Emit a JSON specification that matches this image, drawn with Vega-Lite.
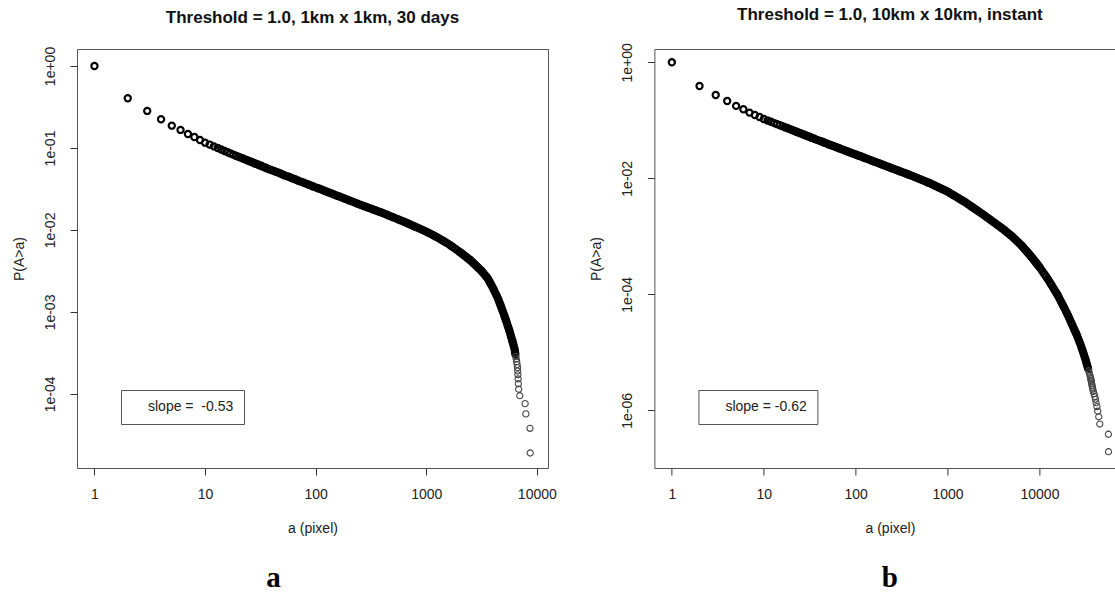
{
"$schema": "https://vega.github.io/schema/vega-lite/v6.json",
"autosize": {"type": "none"},
"padding": {"left": 77, "top": 49, "right": 1038, "bottom": 545},
"background": "white",
"columns": 2,
"spacing": {"row": 108.7, "column": 106.4},
"bounds": "flush",
"resolve": {"scale": {"color": "independent"}, "legend": {"color": "independent"}},
"datasets": {
"A": [
{"a":1,"p":1},{"a":2,"p":0.404},{"a":3,"p":0.283},{"a":4,"p":0.224},{"a":5,"p":0.187},{"a":6,"p":0.166},{"a":7,"p":0.148},{"a":8,"p":0.136},{"a":9,"p":0.125},{"a":10,"p":0.116},
{"a":11,"p":0.110},{"a":12,"p":0.1045},{"a":13,"p":0.0998},{"a":14,"p":0.0957},{"a":15,"p":0.092},{"a":16,"p":0.0887},{"a":17,"p":0.0857},{"a":18,"p":0.083},{"a":19,"p":0.0805},{"a":20,"p":0.0783},
{"a":21,"p":0.0763},{"a":22,"p":0.0745},{"a":23,"p":0.0726},{"a":24,"p":0.071},{"a":25,"p":0.0694},{"a":26,"p":0.0679},{"a":27,"p":0.0665},{"a":28,"p":0.0652},{"a":29,"p":0.0639},{"a":30,"p":0.0628},{"a":31,"p":0.0616},
{"a":32,"p":0.0610},{"a":33,"p":0.0594},{"a":35,"p":0.0579},{"a":36,"p":0.0565},{"a":38,"p":0.0551},{"a":40,"p":0.0537},{"a":42,"p":0.0524},{"a":44,"p":0.0512},{"a":46,"p":0.0500},{"a":48,"p":0.0488},
{"a":50,"p":0.0476},{"a":52,"p":0.0465},{"a":55,"p":0.0453},{"a":58,"p":0.0443},{"a":60,"p":0.0432},{"a":63,"p":0.0422},{"a":66,"p":0.0412},{"a":69,"p":0.0402},{"a":72,"p":0.0392},{"a":76,"p":0.0383},
{"a":79,"p":0.0374},{"a":83,"p":0.0365},{"a":87,"p":0.0356},{"a":91,"p":0.0348},{"a":95,"p":0.0339},{"a":100,"p":0.0331},{"a":105,"p":0.0323},{"a":110,"p":0.0316},{"a":115,"p":0.0308},{"a":120,"p":0.0301},
{"a":126,"p":0.0293},{"a":132,"p":0.0286},{"a":138,"p":0.0280},{"a":145,"p":0.0273},{"a":151,"p":0.0266},{"a":158,"p":0.0260},{"a":166,"p":0.0254},{"a":174,"p":0.0248},{"a":182,"p":0.0242},{"a":191,"p":0.0236},
{"a":200,"p":0.0230},{"a":209,"p":0.0225},{"a":219,"p":0.0220},{"a":229,"p":0.0214},{"a":240,"p":0.0209},{"a":251,"p":0.0204},{"a":263,"p":0.01995},{"a":275,"p":0.0195},{"a":288,"p":0.01905},{"a":302,"p":0.01862},
{"a":316,"p":0.0182},{"a":331,"p":0.01778},{"a":347,"p":0.01738},{"a":363,"p":0.01698},{"a":380,"p":0.0166},{"a":398,"p":0.01622},{"a":417,"p":0.01581},{"a":437,"p":0.01542},{"a":457,"p":0.01503},{"a":479,"p":0.01466},
{"a":501,"p":0.01429},{"a":525,"p":0.01393},{"a":550,"p":0.01358},{"a":575,"p":0.01324},{"a":603,"p":0.01291},{"a":631,"p":0.01259},{"a":661,"p":0.01225},{"a":692,"p":0.01191},{"a":724,"p":0.01159},{"a":759,"p":0.01127},
{"a":794,"p":0.01096},{"a":832,"p":0.01067},{"a":871,"p":0.01038},{"a":912,"p":0.01009},{"a":955,"p":0.009817},{"a":1000,"p":0.00955},{"a":1047,"p":0.009247},{"a":1096,"p":0.008954},{"a":1148,"p":0.00867},{"a":1202,"p":0.008395},
{"a":1259,"p":0.008128},{"a":1318,"p":0.007834},{"a":1380,"p":0.007551},{"a":1445,"p":0.007278},{"a":1514,"p":0.007015},{"a":1585,"p":0.006761},{"a":1660,"p":0.006471},{"a":1738,"p":0.006194},{"a":1820,"p":0.005929},{"a":1905,"p":0.005675},
{"a":1995,"p":0.005433},{"a":2042,"p":0.005302},{"a":2089,"p":0.005176},{"a":2138,"p":0.005052},{"a":2188,"p":0.004932},{"a":2239,"p":0.004814},{"a":2291,"p":0.004699},{"a":2344,"p":0.004585},{"a":2399,"p":0.004477},{"a":2455,"p":0.004369},
{"a":2512,"p":0.004266},{"a":2570,"p":0.00414},{"a":2630,"p":0.004018},{"a":2692,"p":0.003899},{"a":2754,"p":0.003784},{"a":2818,"p":0.003673},{"a":2884,"p":0.003565},{"a":2951,"p":0.003459},{"a":3020,"p":0.003357},{"a":3090,"p":0.003258},
{"a":3162,"p":0.003162},{"a":3236,"p":0.003048},{"a":3311,"p":0.002938},{"a":3388,"p":0.002831},{"a":3467,"p":0.002729},{"a":3548,"p":0.00263},{"a":3631,"p":0.0025},{"a":3715,"p":0.002366},{"a":3802,"p":0.002239},{"a":3890,"p":0.002113},
{"a":3981,"p":0.001995},{"a":4074,"p":0.001875},{"a":4169,"p":0.001758},{"a":4266,"p":0.001648},{"a":4365,"p":0.001545},{"a":4467,"p":0.001445},{"a":4538,"p":0.0013646},{"a":4612,"p":0.001288},{"a":4686,"p":0.0012162},{"a":4762,"p":0.001148},
{"a":4838,"p":0.001084},{"a":4917,"p":0.001023},{"a":5012,"p":0.000955},{"a":5085,"p":0.0009016},{"a":5158,"p":0.0008511},{"a":5234,"p":0.0008035},{"a":5309,"p":0.0007586},{"a":5386,"p":0.0007161},{"a":5464,"p":0.0006761},{"a":5543,"p":0.0006383},
{"a":5623,"p":0.0006026},{"a":5694,"p":0.0005689},{"a":5764,"p":0.000537},{"a":5836,"p":0.000507},{"a":5907,"p":0.0004786},{"a":5981,"p":0.0004519},{"a":6026,"p":0.0004365},{"a":6095,"p":0.0004121},{"a":6166,"p":0.000389},{"a":6237,"p":0.0003673},
{"a":6310,"p":0.0003467},{"a":6353,"p":0.0003238},{"a":6397,"p":0.0003048},{"a":6457,"p":0.0002857},{"a":6516,"p":0.0002667},{"a":6577,"p":0.0002476},{"a":6637,"p":0.0002286},{"a":6683,"p":0.0002095},{"a":6714,"p":0.0001905},{"a":6745,"p":0.0001714},
{"a":6776,"p":0.0001524},{"a":6808,"p":0.0001333},{"a":6855,"p":0.0001143},{"a":7015,"p":9.52e-5},{"a":7834,"p":7.62e-5},{"a":7962,"p":5.71e-5},{"a":8670,"p":3.81e-5},{"a":8710,"p":1.905e-5}
],
"B": [
{"a":1,"p":1},{"a":2,"p":0.390},{"a":3,"p":0.273},{"a":4,"p":0.215},{"a":5,"p":0.177},{"a":6,"p":0.155},{"a":7,"p":0.1355},{"a":8,"p":0.1234},{"a":9,"p":0.114},{"a":10,"p":0.105},
{"a":11,"p":0.0993},{"a":12,"p":0.0942},{"a":13,"p":0.0895},{"a":14,"p":0.0857},{"a":15,"p":0.0822},{"a":16,"p":0.0791},{"a":17,"p":0.076},{"a":18,"p":0.0735},{"a":19,"p":0.071},{"a":20,"p":0.0687},
{"a":21,"p":0.0666},{"a":22,"p":0.0647},{"a":23,"p":0.0629},{"a":24,"p":0.0614},{"a":25,"p":0.0598},{"a":26,"p":0.0583},{"a":27,"p":0.0569},{"a":28,"p":0.0557},{"a":29,"p":0.0545},{"a":30,"p":0.0533},{"a":31,"p":0.0522},
{"a":32,"p":0.0516},{"a":33,"p":0.0501},{"a":35,"p":0.0487},{"a":36,"p":0.0473},{"a":38,"p":0.0460},{"a":40,"p":0.0447},{"a":42,"p":0.0435},{"a":44,"p":0.0423},{"a":46,"p":0.0411},{"a":48,"p":0.0400},
{"a":50,"p":0.0389},{"a":52,"p":0.0378},{"a":55,"p":0.0368},{"a":58,"p":0.0358},{"a":60,"p":0.0348},{"a":63,"p":0.0339},{"a":66,"p":0.0330},{"a":69,"p":0.0321},{"a":72,"p":0.0312},{"a":76,"p":0.0303},
{"a":79,"p":0.0295},{"a":83,"p":0.0287},{"a":87,"p":0.0279},{"a":91,"p":0.0272},{"a":95,"p":0.0264},{"a":100,"p":0.0257},{"a":105,"p":0.0250},{"a":110,"p":0.0243},{"a":115,"p":0.0237},{"a":120,"p":0.0230},
{"a":126,"p":0.0224},{"a":132,"p":0.0218},{"a":138,"p":0.0212},{"a":145,"p":0.0206},{"a":151,"p":0.0200},{"a":158,"p":0.0195},{"a":166,"p":0.01897},{"a":174,"p":0.01845},{"a":182,"p":0.01795},{"a":191,"p":0.01746},
{"a":200,"p":0.01698},{"a":209,"p":0.01652},{"a":219,"p":0.01607},{"a":229,"p":0.01563},{"a":240,"p":0.01521},{"a":251,"p":0.01479},{"a":263,"p":0.01439},{"a":275,"p":0.0140},{"a":288,"p":0.01361},{"a":302,"p":0.01324},
{"a":316,"p":0.01288},{"a":331,"p":0.01253},{"a":347,"p":0.01219},{"a":363,"p":0.01186},{"a":380,"p":0.01153},{"a":398,"p":0.01122},{"a":417,"p":0.01089},{"a":437,"p":0.01057},{"a":457,"p":0.01026},{"a":479,"p":0.009954},
{"a":501,"p":0.009661},{"a":525,"p":0.009376},{"a":550,"p":0.009099},{"a":575,"p":0.008831},{"a":603,"p":0.00857},{"a":631,"p":0.008318},{"a":661,"p":0.008035},{"a":692,"p":0.007762},{"a":724,"p":0.007499},{"a":759,"p":0.007244},
{"a":794,"p":0.006998},{"a":832,"p":0.006761},{"a":871,"p":0.006531},{"a":912,"p":0.00631},{"a":955,"p":0.006095},{"a":1000,"p":0.005888},{"a":1047,"p":0.005636},{"a":1096,"p":0.005395},{"a":1148,"p":0.005164},{"a":1202,"p":0.004943},
{"a":1259,"p":0.004732},{"a":1318,"p":0.004529},{"a":1380,"p":0.004335},{"a":1445,"p":0.00415},{"a":1514,"p":0.003972},{"a":1585,"p":0.003802},{"a":1660,"p":0.003614},{"a":1738,"p":0.003436},{"a":1820,"p":0.003266},{"a":1905,"p":0.003105},
{"a":1995,"p":0.002951},{"a":2089,"p":0.002805},{"a":2188,"p":0.002667},{"a":2291,"p":0.002535},{"a":2399,"p":0.00241},{"a":2512,"p":0.002291},{"a":2630,"p":0.002173},{"a":2754,"p":0.002061},{"a":2884,"p":0.001954},{"a":3020,"p":0.001854},
{"a":3162,"p":0.001758},{"a":3311,"p":0.001667},{"a":3467,"p":0.001581},{"a":3631,"p":0.0015},{"a":3802,"p":0.001422},{"a":3981,"p":0.001349},{"a":4169,"p":0.001271},{"a":4365,"p":0.001197},{"a":4571,"p":0.001127},{"a":4786,"p":0.001062},
{"a":5012,"p":0.001},{"a":5248,"p":0.0009333},{"a":5495,"p":0.000871},{"a":5754,"p":0.0008128},{"a":6026,"p":0.0007586},{"a":6310,"p":0.0007079},{"a":6457,"p":0.0006792},{"a":6607,"p":0.0006516},{"a":6761,"p":0.0006252},{"a":6918,"p":0.0005998},
{"a":7079,"p":0.0005754},{"a":7244,"p":0.0005521},{"a":7413,"p":0.0005297},{"a":7586,"p":0.0005082},{"a":7762,"p":0.0004875},{"a":7943,"p":0.0004677},{"a":8128,"p":0.0004467},{"a":8318,"p":0.0004266},{"a":8511,"p":0.0004074},{"a":8710,"p":0.000389},
{"a":8913,"p":0.0003715},{"a":9120,"p":0.0003548},{"a":9333,"p":0.0003388},{"a":9550,"p":0.0003236},{"a":9772,"p":0.000309},{"a":10000,"p":0.0002951},{"a":10409,"p":0.0002692},{"a":10835,"p":0.0002455},{"a":11276,"p":0.0002239},{"a":11737,"p":0.0002042},
{"a":12218,"p":0.0001862},{"a":12589,"p":0.0001738},{"a":13043,"p":0.0001585},{"a":13514,"p":0.0001445},{"a":14002,"p":0.0001318},{"a":14508,"p":0.0001202},{"a":15032,"p":0.0001096},{"a":15571,"p":0.0001},{"a":15849,"p":9.55e-5},{"a":16330,"p":8.71e-5},
{"a":16822,"p":7.943e-5},{"a":17329,"p":7.244e-5},{"a":17852,"p":6.607e-5},{"a":18389,"p":6.026e-5},{"a":18943,"p":5.495e-5},{"a":19513,"p":5.012e-5},{"a":19953,"p":4.677e-5},{"a":20483,"p":4.266e-5},{"a":21032,"p":3.89e-5},{"a":21593,"p":3.548e-5},
{"a":22167,"p":3.236e-5},{"a":22756,"p":2.951e-5},{"a":23365,"p":2.692e-5},{"a":23988,"p":2.455e-5},{"a":24627,"p":2.239e-5},{"a":25119,"p":2.089e-5},{"a":25704,"p":1.905e-5},{"a":26303,"p":1.738e-5},{"a":26915,"p":1.585e-5},{"a":27542,"p":1.445e-5},
{"a":28184,"p":1.318e-5},{"a":28728,"p":1.202e-5},{"a":29289,"p":1.096e-5},{"a":29854,"p":1.0e-5},{"a":30431,"p":9.12e-6},{"a":31024,"p":8.318e-6},{"a":31623,"p":7.586e-6},{"a":32145,"p":6.918e-6},{"a":32683,"p":6.31e-6},{"a":33221,"p":5.754e-6},
{"a":33777,"p":5.248e-6},{"a":34334,"p":4.786e-6},{"a":34907,"p":4.365e-6},{"a":35481,"p":3.981e-6},{"a":35892,"p":3.671e-6},{"a":36141,"p":3.478e-6},{"a":36475,"p":3.284e-6},{"a":36728,"p":3.091e-6},{"a":36983,"p":2.898e-6},{"a":37325,"p":2.705e-6},
{"a":37670,"p":2.512e-6},{"a":38019,"p":2.318e-6},{"a":38548,"p":2.125e-6},{"a":39264,"p":1.932e-6},{"a":39994,"p":1.739e-6},{"a":40644,"p":1.546e-6},{"a":41305,"p":1.352e-6},{"a":42170,"p":1.159e-6},{"a":43053,"p":9.66e-7},{"a":44157,"p":7.73e-7},
{"a":45290,"p":5.8e-7},{"a":56234,"p":3.864e-7},{"a":56364,"p":1.932e-7}
]
},
"concat": [
{
"width": 471, "height": 419,
"title": "Threshold = 1.0, 1km x 1km, 30 days",
"layer": [
{
"data": {"name": "A"},
"mark": {"type": "point", "shape": "circle", "filled": false, "size": 38, "opacity": 1},
"encoding": {
"x": {"field": "a", "type": "quantitative", "scale": {"type": "log", "domain": [0.695, 12620], "nice": false, "zero": false}, "axis": {"values": [1, 10, 100, 1000, 10000], "format": "d", "title": "a (pixel)"}},
"y": {"field": "p", "type": "quantitative", "scale": {"type": "log", "domain": [1.25e-5, 1.611], "nice": false, "zero": false}, "axis": {"values": [1, 0.1, 0.01, 0.001, 0.0001], "title": "P(A>a)", "labelExpr": "'1e' + (round(log(datum.value)/LN10) < 0 ? '-' : '+') + (abs(round(log(datum.value)/LN10)) < 10 ? '0' : '') + abs(round(log(datum.value)/LN10))"}},
"strokeWidth": {"condition": {"test": "datum.p < 0.0003", "value": 1.1}, "value": 2.2},
"color": {"condition": {"test": "datum.p < 0.0003", "value": "#444444"}, "value": "#000000"}
}
},
{
"data": {"values": [{"fit": "slope = \u00a0-0.53"}]},
"mark": {"type": "point", "opacity": 0},
"encoding": {"color": {"field": "fit", "type": "nominal", "scale": {"range": ["#000000"]}, "legend": {"title": null}}}
}
]
},
{
"width": 471, "height": 419,
"title": "Threshold = 1.0, 10km x 10km, instant",
"layer": [
{
"data": {"name": "B"},
"mark": {"type": "point", "shape": "circle", "filled": false, "size": 38, "opacity": 1},
"encoding": {
"x": {"field": "a", "type": "quantitative", "scale": {"type": "log", "domain": [0.6457, 86100], "nice": false, "zero": false}, "axis": {"values": [1, 10, 100, 1000, 10000], "format": "d", "title": "a (pixel)"}},
"y": {"field": "p", "type": "quantitative", "scale": {"type": "log", "domain": [1.012e-7, 1.694], "nice": false, "zero": false}, "axis": {"values": [1, 0.01, 0.0001, 0.000001], "title": "P(A>a)", "labelExpr": "'1e' + (round(log(datum.value)/LN10) < 0 ? '-' : '+') + (abs(round(log(datum.value)/LN10)) < 10 ? '0' : '') + abs(round(log(datum.value)/LN10))"}},
"strokeWidth": {"condition": {"test": "datum.p < 0.000005", "value": 1.1}, "value": 2.2},
"color": {"condition": {"test": "datum.p < 0.000005", "value": "#444444"}, "value": "#000000"}
}
},
{
"data": {"values": [{"fit": "slope = -0.62"}]},
"mark": {"type": "point", "opacity": 0},
"encoding": {"color": {"field": "fit", "type": "nominal", "scale": {"range": ["#000000"]}, "legend": {"title": null}}}
}
]
},
{
"width": 471, "height": 20,
"view": {"stroke": null},
"data": {"values": [{"t": "a"}]},
"mark": {"type": "text", "font": "Liberation Serif", "fontWeight": "bold", "fontSize": 29, "baseline": "alphabetic", "align": "center", "dx": -39, "color": "#000000"},
"encoding": {"text": {"field": "t", "type": "nominal"}}
},
{
"width": 471, "height": 20,
"view": {"stroke": null},
"data": {"values": [{"t": "b"}]},
"mark": {"type": "text", "font": "Liberation Serif", "fontWeight": "bold", "fontSize": 29, "baseline": "alphabetic", "align": "center", "color": "#000000"},
"encoding": {"text": {"field": "t", "type": "nominal"}}
}
],
"config": {
"font": "Liberation Sans",
"view": {"stroke": "#555555", "strokeWidth": 1},
"axis": {"grid": false, "domain": false, "tickColor": "#333333", "tickSize": 7, "tickWidth": 1, "labelFont": "Liberation Sans", "labelFontSize": 14, "labelColor": "#222222", "titleFont": "Liberation Sans", "titleFontSize": 14, "titleFontWeight": "normal", "titleColor": "#222222", "labelFlush": false, "labelOverlap": false, "labelBound": false},
"axisX": {"labelPadding": 12, "titlePadding": 20},
"axisY": {"labelAngle": 270, "labelAlign": "center", "labelBaseline": "alphabetic", "labelPadding": 15.5, "titlePadding": 17},
"title": {"font": "Liberation Sans", "fontSize": 17, "fontWeight": "bold", "color": "#111111", "frame": "group", "anchor": "middle", "baseline": "alphabetic", "offset": 19},
"legend": {"orient": "bottom-left", "offset": 44, "padding": 10, "strokeColor": "#555555", "fillColor": "white", "cornerRadius": 0, "labelFont": "Liberation Sans", "labelFontSize": 14, "labelColor": "#222222", "symbolSize": 196, "symbolOpacity": 0, "symbolStrokeWidth": 0, "labelOffset": 3}
}
}
